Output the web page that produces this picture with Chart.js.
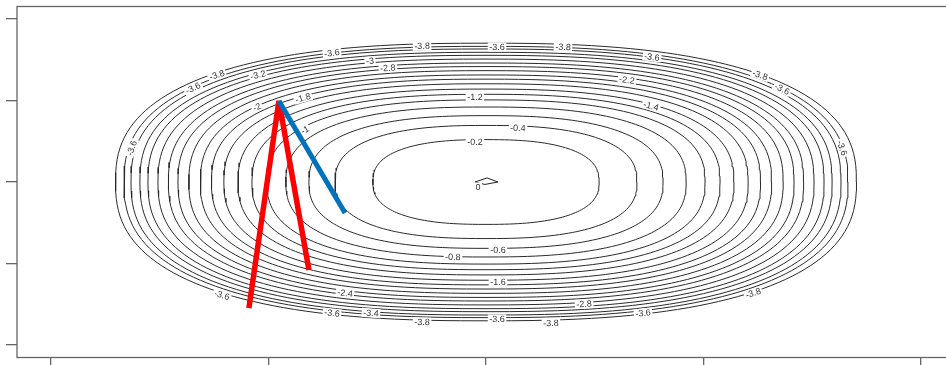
<!DOCTYPE html>
<html>
<head>
<meta charset="utf-8">
<script src="https://cdn.jsdelivr.net/npm/chart.js@4.4.1/dist/chart.umd.min.js"></script>
<style>
  html, body { margin: 0; padding: 0; background: #fff; overflow: hidden; }
  #wrap { width: 960px; height: 365px; }
</style>
</head>
<body>
<div id="wrap"><canvas id="contourChart" width="960" height="365"></canvas></div>
<script>
// contour levels and their radius (data units)
const levels = [-0.2, -0.4, -0.6, -0.8, -1, -1.2, -1.4, -1.6, -1.8, -2, -2.2, -2.4, -2.6, -2.8, -3, -3.2, -3.4, -3.6, -3.8];
const radii = [0.520, 0.694, 0.814, 0.920, 1.007, 1.076, 1.140, 1.205, 1.262, 1.313, 1.366, 1.416, 1.460, 1.508, 1.554, 1.591, 1.632, 1.664, 1.703];
const shapeExp = 2.5;

// tiny closed contour at the top (level 0)
const topX = [-0.051, 0.005, 0.055, -0.005, -0.051];
const topY = [0.0, 0.05, 0.0, -0.03, 0.0];

// optimisation paths
const redX = [-1.090, -0.952, -0.814];
const redY = [-1.546, 0.994, -1.080];
const blueX = [-0.952, -0.648];
const blueY = [0.994, -0.380];

// contour labels as seen in the picture
const labelText = ['-3.6', '-3.6', '-3.8', '-3.2', '-2', '-1.8', '-1', '-3.6', '-3', '-2.8', '-3.8', '-3.6', '-3.8', '-1.2', '-0.4', '-0.2', '-2.2', '-3.6', '-1.4', '-3.8', '-3.6', '-3.6',
  '-3.6', '-0.6', '-0.8', '-1.6', '-2.4', '-3.6', '-3.4', '-3.8', '-3.6', '-3.8', '-2.8', '-3.8', '-3.6', '0'];
const labelX = [-1.628, -1.347, -1.237, -1.048, -1.053, -0.841, -0.832, -0.708, -0.533, -0.451, -0.294, 0.051, 0.354, -0.051, 0.147, -0.051, 0.648, 0.763, 0.759, 1.260, 1.361, 1.637,
  -1.214, 0.055, -0.152, 0.055, -0.648, -0.708, -0.529, -0.294, 0.051, 0.299, 0.451, 1.228, 0.722, -0.037];
const labelY = [0.417, 1.153, 1.313, 1.313, 0.920, 1.031, 0.638, 1.583, 1.485, 1.399, 1.669, 1.656, 1.656, 1.043, 0.663, 0.491, 1.252, 1.534, 0.933, 1.313, 1.141, 0.417,
  -1.387, -0.834, -0.920, -1.227, -1.362, -1.607, -1.607, -1.718, -1.681, -1.730, -1.497, -1.362, -1.607, -0.061];

const xTicks = [-2, -1, 0, 1, 2];
const yTicks = [-2, -1, 0, 1, 2];

function ringPoints(r) {
  const pts = [];
  const n = 180;
  for (let i = 0; i <= n; i++) {
    const t = (i / n) * Math.PI * 2;
    const c = Math.cos(t), s = Math.sin(t);
    pts.push({
      x: r * Math.sign(c) * Math.pow(Math.abs(c), 2 / shapeExp),
      y: r * Math.sign(s) * Math.pow(Math.abs(s), 2 / shapeExp)
    });
  }
  return pts;
}

const zip = (xs, ys) => xs.map((x, i) => ({ x: x, y: ys[i] }));

const datasets = [
  { data: zip(blueX, blueY), borderColor: '#0072BD', borderWidth: 5, borderCapStyle: 'butt' },
  { data: zip(redX, redY), borderColor: '#FF0000', borderWidth: 5.5, borderCapStyle: 'butt', borderJoinStyle: 'bevel' },
  { data: zip(topX, topY), borderColor: '#222', borderWidth: 1 }
];
radii.forEach(r => {
  datasets.push({ data: ringPoints(r), borderColor: '#2a2a2a', borderWidth: 1 });
});

// box around the plot region
const boxPlugin = {
  id: 'box',
  afterDraw(chart) {
    const { ctx, chartArea: a } = chart;
    ctx.save();
    ctx.strokeStyle = '#666';
    ctx.lineWidth = 1.3;
    ctx.strokeRect(a.left, a.top, a.right - a.left, a.bottom - a.top);
    ctx.restore();
  }
};

// contour labels, drawn right after the contours (index 2 is the last contour drawn)
const labelPlugin = {
  id: 'contourLabels',
  afterDatasetDraw(chart, args) {
    if (args.index !== 2) return;
    const { ctx, scales } = chart;
    const sx = scales.x.getPixelForValue(1) - scales.x.getPixelForValue(0);
    const sy = scales.y.getPixelForValue(0) - scales.y.getPixelForValue(1);
    ctx.save();
    ctx.font = '9px "Liberation Sans", Arial, sans-serif';
    ctx.textAlign = 'center';
    ctx.textBaseline = 'middle';
    labelText.forEach((txt, i) => {
      const x = labelX[i], y = labelY[i];
      const px = scales.x.getPixelForValue(x);
      const py = scales.y.getPixelForValue(y);
      let ang = 0;
      if (txt !== '0') {
        const gx = shapeExp * Math.pow(Math.abs(x), shapeExp - 1) * Math.sign(x) / sx;
        const gy = -shapeExp * Math.pow(Math.abs(y), shapeExp - 1) * Math.sign(y) / sy;
        ang = Math.atan2(gy, gx) + Math.PI / 2;
        while (ang > Math.PI / 2) ang -= Math.PI;
        while (ang < -Math.PI / 2) ang += Math.PI;
      }
      const w = ctx.measureText(txt).width + 3;
      ctx.save();
      ctx.translate(px, py);
      ctx.rotate(ang);
      ctx.fillStyle = '#fff';
      ctx.fillRect(-w / 2, -4.5, w, 9);
      ctx.fillStyle = '#333';
      ctx.fillText(txt, 0, 0.5);
      ctx.restore();
    });
    ctx.restore();
  }
};

new Chart(document.getElementById('contourChart'), {
  type: 'line',
  data: { datasets: datasets },
  options: {
    responsive: false,
    animation: false,
    parsing: true,
    layout: { padding: { top: 6.5, right: 5, left: 0, bottom: 0 } },
    elements: {
      point: { radius: 0, hoverRadius: 0 },
      line: { tension: 0, fill: false }
    },
    plugins: { legend: { display: false }, tooltip: { enabled: false } },
    events: [],
    scales: {
      x: {
        type: 'linear',
        min: -2.156,
        max: 2.156,
        ticks: { display: false },
        grid: { drawOnChartArea: false, drawTicks: true, tickLength: 8, color: '#666', lineWidth: 1.3 },
        border: { display: false },
        afterBuildTicks: axis => { axis.ticks = xTicks.map(v => ({ value: v })); },
        afterFit: axis => { axis.height = 7.5; }
      },
      y: {
        type: 'linear',
        min: -2.153,
        max: 2.153,
        ticks: { display: false },
        grid: { drawOnChartArea: false, drawTicks: true, tickLength: 11, color: '#666', lineWidth: 1.3 },
        border: { display: false },
        afterBuildTicks: axis => { axis.ticks = yTicks.map(v => ({ value: v })); },
        afterFit: axis => { axis.width = 17; }
      }
    }
  },
  plugins: [boxPlugin, labelPlugin]
});
</script>
</body>
</html>
